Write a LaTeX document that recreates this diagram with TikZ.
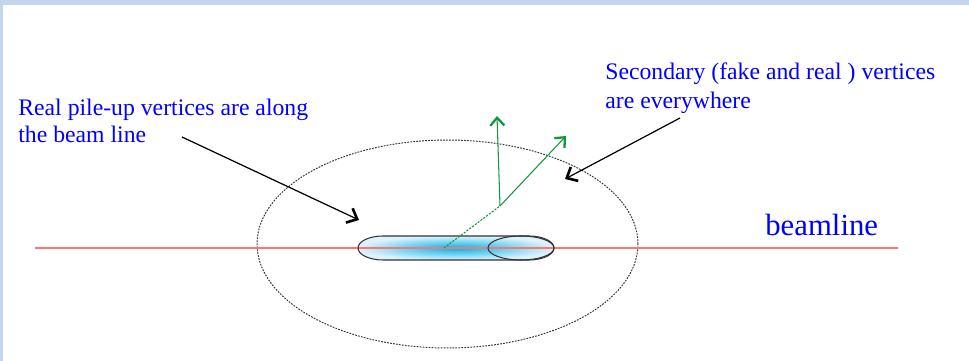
\documentclass[tikz,border=0pt]{standalone}
\usepackage{fontspec}
\setmainfont{Liberation Serif}
\usetikzlibrary{arrows.meta,shapes.geometric}
\definecolor{framebg}{RGB}{196,213,238}
\definecolor{beamred}{RGB}{255,115,115}
\definecolor{trackgreen}{RGB}{20,150,60}
\definecolor{bluecore}{RGB}{0,180,232}
\definecolor{blueedge}{RGB}{222,242,252}
\tikzset{
    lbl/.style={text=blue, inner sep=0pt, align=left, font=\fontsize{13.5}{15.5}\selectfont},
    pointer/.style={draw=black, line width=0.7pt, -{Straight Barb[length=5pt,width=9pt,line width=1.5pt]}},
    track/.style={draw=trackgreen, line width=0.6pt, -{Straight Barb[length=4.5pt,width=8pt,line width=1.3pt]}},
}
\begin{document}
\begin{tikzpicture}[x=0.02cm,y=0.02cm]
    \fill[framebg] (0,0) rectangle (969,361);
    \fill[white] (3,0) rectangle (969,356);
    \useasboundingbox (0,0) rectangle (969,361);
    % luminous region round the vertex tube
    \node[draw=black!80, ellipse, dash pattern=on 1pt off 0.7pt, line width=0.55pt,
          minimum width=7.62cm, minimum height=4.16cm, inner sep=0pt] (region) at (447.5,117) {};
    % vertex tube along the beam
    \shade[inner color=bluecore, outer color=blueedge]
        (383,125) -- (529,125) arc[start angle=90,end angle=-90,x radius=25,y radius=12]
        -- (383,101) arc[start angle=270,end angle=90,x radius=25,y radius=12] -- cycle;
    \draw[beamred, line width=0.6pt] (35,113) -- (898,113);
    \draw[black!80, line width=0.6pt]
        (383,125) -- (529,125) arc[start angle=90,end angle=-90,x radius=25,y radius=12]
        -- (383,101) arc[start angle=270,end angle=90,x radius=25,y radius=12] -- cycle;
    \node[draw=black!80, ellipse, line width=0.6pt, minimum width=1.32cm, minimum height=0.48cm,
          inner sep=0pt] (endcap) at (521,113) {};
    % tracks from the displaced vertex
    \coordinate (pv) at (444,113);
    \coordinate (sv) at (500,155);
    \coordinate (trkA) at (497,245);
    \coordinate (trkB) at (566,225);
    \draw[trackgreen, line width=0.6pt, dash pattern=on 1.2pt off 0.8pt] (pv) -- (sv);
    \draw[track] (sv) -- (trkA);
    \draw[track] (sv) -- (trkB);
    % labels
    \node[lbl, anchor=base west] (pileup) at (18,218) {Real pile-up vertices are along\\the beam line};
    \node[lbl, anchor=base west, font=\fontsize{13.5}{17}\selectfont] (second) at (605,252)
        {Secondary (fake and real ) vertices\\are everywhere};
    \node[text=blue, inner sep=0pt, anchor=base west, font=\fontsize{17.5}{20}\selectfont] (beam) at (765,125) {beamline};
    \coordinate (pileupA) at (182,224);
    \coordinate (pileupB) at (359,141);
    \coordinate (secondA) at (680,243);
    \coordinate (secondB) at (565,182);
    \draw[pointer] (pileupA) -- (pileupB);
    \draw[pointer] (secondA) -- (secondB);
\end{tikzpicture}
\end{document}
